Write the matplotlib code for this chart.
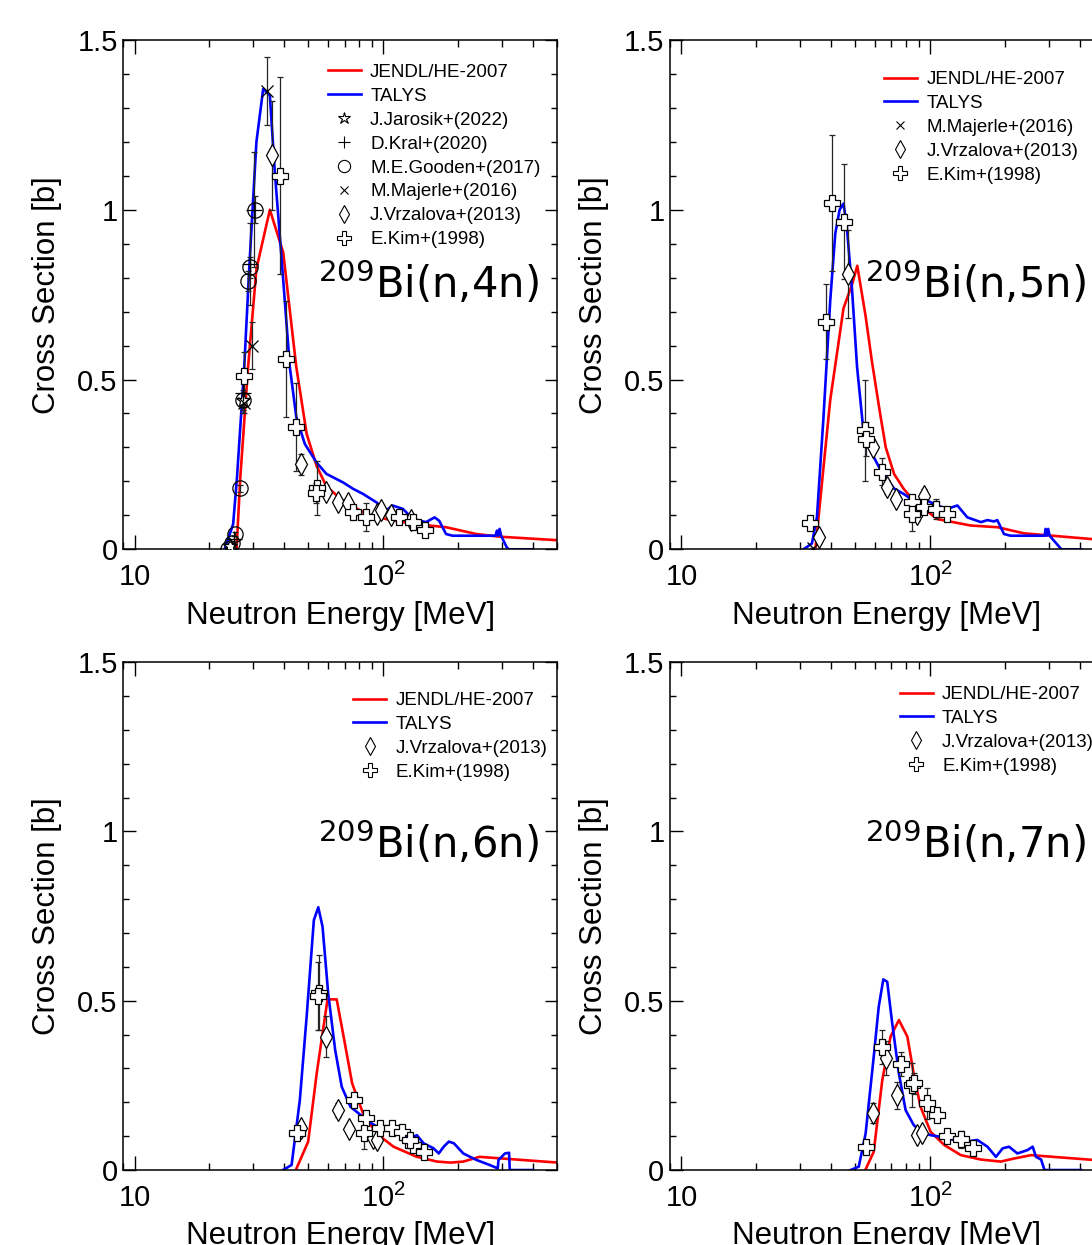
import numpy as np
import matplotlib
matplotlib.use("Agg")
import matplotlib.pyplot as plt
from matplotlib.ticker import LogLocator, FixedLocator, FixedFormatter, MultipleLocator
from matplotlib.lines import Line2D

plt.rcParams['font.family'] = ['Liberation Sans', 'DejaVu Sans']
plt.rcParams['mathtext.fontset'] = 'custom'
plt.rcParams['mathtext.rm'] = 'Liberation Sans'
plt.rcParams['mathtext.default'] = 'regular'

# ---------------- (n,4n) ----------------
jendl4_e = [25.7, 26.6, 28.6, 30.9, 35.0, 39.6, 44.7, 49.2, 54.0, 59.1, 68.9, 85.6, 102.8, 131.8, 179, 237, 296, 496]
jendl4_y = [0.0, 0.21, 0.537, 0.826, 1.0, 0.874, 0.537, 0.34, 0.245, 0.185, 0.143, 0.104, 0.089, 0.075, 0.065, 0.045, 0.037, 0.027]
talys4_e = [23.0, 24.9, 25.8, 27.6, 28.9, 29.8, 30.9, 32.9, 35.0, 36.6, 38.4, 40.2, 42.1, 44.7, 48.4, 54.0, 59.1, 68.9,
            75.7, 83.0, 94.0, 102.8, 109, 120, 131.8, 148.6, 161, 168, 179, 190, 283, 287, 290, 294, 298, 314, 320, 396]
talys4_y = [0.0, 0.074, 0.21, 0.537, 0.826, 0.999, 1.2, 1.356, 1.336, 1.115, 0.92, 0.73, 0.537, 0.39, 0.31, 0.255, 0.222, 0.197,
            0.178, 0.163, 0.138, 0.114, 0.129, 0.119, 0.089, 0.080, 0.094, 0.084, 0.045, 0.040, 0.040, 0.055, 0.040, 0.06, 0.040, 0.006, 0.0, 0.0]
kim4_e = [27.6, 38.4, 40.5, 44.7, 54.3, 53.5, 75.7, 85.6, 116, 131.8, 147]
kim4_y = [0.51, 1.10, 0.56, 0.36, 0.18, 0.165, 0.11, 0.095, 0.095, 0.08, 0.058]
kim4_err = [0.07, 0.29, 0.17, 0.13, 0.08, 0.03, 0.02, 0.04, 0.02, 0.02, 0.01]
vrz4_e = [35.8, 46.8, 58.8, 65.9, 72.4, 94, 97.8, 107.4, 129]
vrz4_y = [1.16, 0.25, 0.17, 0.14, 0.135, 0.105, 0.115, 0.10, 0.085]
vrz4_err = [0.16, 0.03, 0.02, 0.01, 0.01, 0.01, 0.01, 0.01, 0.01]
maj4_e = [34.1, 29.7, 27.6]
maj4_y = [1.35, 0.60, 0.43]
maj4_err = [0.1, 0.07, 0.03]
goo4_e = [30.4, 29.0, 28.6, 27.4, 26.5, 25.3, 24.7, 23.8]
goo4_y = [1.0, 0.83, 0.79, 0.44, 0.18, 0.045, 0.02, 0.0]
goo4_err = [0.04, 0.03, 0.03, 0.02, 0.01, 0.005, 0.005, 0.0]
kral4_e = [30.3, 29.2, 27.4, 25.0]
kral4_y = [1.0, 0.84, 0.46, 0.03]
kral4_err = [0.17, 0.12, 0.06, 0.01]
jar4_e = [27.3, 24.2]
jar4_y = [0.44, 0.01]
jar4_err = [0.03, 0.01]

# ---------------- (n,5n) ----------------
jendl5_e = [34.6, 36.7, 39.7, 44.9, 48.6, 51.0, 55.0, 58.5, 63.0, 66.4, 71.7, 78.4, 86.0, 107, 146, 187, 239, 450]
jendl5_y = [0.0, 0.19, 0.44, 0.71, 0.78, 0.835, 0.69, 0.55, 0.40, 0.30, 0.222, 0.178, 0.143, 0.089, 0.070, 0.065, 0.047, 0.03]
talys5_e = [31.0, 33.5, 35.1, 37.3, 39.7, 41.6, 43.3, 44.9, 46.3, 48.6, 50.9, 53.8, 56.7, 63.3, 71.7, 78.4, 86.0, 97.6,
            107, 117.4, 128.9, 141.4, 160.3, 170.3, 181, 186.6, 198.5, 211, 289, 292, 295, 299, 303, 338, 406]
talys5_y = [0.0, 0.017, 0.095, 0.39, 0.733, 0.93, 1.0, 1.018, 0.95, 0.763, 0.537, 0.36, 0.30, 0.233, 0.179, 0.163, 0.143, 0.143,
            0.129, 0.119, 0.129, 0.094, 0.080, 0.086, 0.082, 0.086, 0.045, 0.040, 0.040, 0.06, 0.040, 0.06, 0.040, 0.0, 0.0]
kim5_e = [40.3, 44.9, 38.3, 32.8, 55.0, 55.5, 64.1, 84.8, 84.8, 94.5, 105.7, 117.4]
kim5_y = [1.02, 0.965, 0.67, 0.076, 0.35, 0.325, 0.228, 0.138, 0.104, 0.124, 0.119, 0.104]
kim5_err = [0.2, 0.17, 0.11, 0.01, 0.15, 0.05, 0.04, 0.02, 0.05, 0.02, 0.03, 0.02]
vrz5_e = [46.9, 35.9, 58.9, 66.9, 72.8, 94.5, 88.7]
vrz5_y = [0.81, 0.036, 0.30, 0.184, 0.149, 0.158, 0.104]
vrz5_err = [0.13, 0.0, 0.0, 0.02, 0.0, 0.02, 0.02]
maj5_e = [33.9]
maj5_y = [0.005]
maj5_err = [0.0]

# ---------------- (n,6n) ----------------
jendl6_e = [44.8, 49.9, 54, 59.7, 65, 68.9, 75, 83, 94, 110, 136.6, 164.7, 186.6, 210, 244, 505]
jendl6_y = [0.005, 0.084, 0.285, 0.504, 0.504, 0.404, 0.256, 0.167, 0.108, 0.069, 0.039, 0.025, 0.022, 0.025, 0.039, 0.022]
talys6_e = [39.5, 42.8, 46.2, 49.2, 52.6, 54.8, 57.0, 60.1, 64.1, 68.1, 73.8, 81.3, 89.6, 100, 113.5, 128.4, 136.6, 145.4,
            159.6, 167.3, 175.2, 183.7, 192.5, 210, 237, 268, 289, 291, 309, 321, 323, 401]
talys6_y = [0.0, 0.015, 0.207, 0.453, 0.738, 0.776, 0.719, 0.52, 0.354, 0.246, 0.187, 0.162, 0.138, 0.118, 0.118, 0.094, 0.103, 0.079,
            0.064, 0.049, 0.069, 0.084, 0.079, 0.049, 0.030, 0.015, 0.005, 0.03, 0.049, 0.051, 0.0, 0.0]
kim6_e = [55.3, 54.8, 44.8, 76.2, 85.6, 84.0, 97.2, 108, 118.6, 131.8, 128, 145.4]
kim6_y = [0.524, 0.515, 0.108, 0.207, 0.153, 0.108, 0.123, 0.123, 0.113, 0.074, 0.09, 0.054]
kim6_err = [0.11, 0.1, 0.01, 0.02, 0.02, 0.045, 0.01, 0.01, 0.01, 0.02, 0.01, 0.01]
vrz6_e = [59.1, 46.8, 66.0, 73, 91, 94]
vrz6_y = [0.394, 0.123, 0.177, 0.12, 0.094, 0.09]
vrz6_err = [0.06, 0.0, 0.02, 0.0, 0.0, 0.0]

# ---------------- (n,7n) ----------------
jendl7_e = [55.1, 59.4, 64.3, 69.4, 75.0, 81.1, 86.0, 91.6, 100.6, 114.1, 133.2, 160.3, 192.5, 218, 255, 452]
jendl7_y = [0.002, 0.054, 0.266, 0.394, 0.443, 0.394, 0.285, 0.187, 0.113, 0.074, 0.044, 0.031, 0.025, 0.034, 0.044, 0.03]
talys7_e = [47.9, 51.7, 55.1, 59.4, 62.2, 64.9, 67.3, 70.5, 75.0, 79.8, 86.0, 91.6, 100.6, 110.6, 124.8, 141.4, 155, 170.3,
            184.2, 196, 208, 224.8, 246.9, 259, 267, 280, 289, 406]
talys7_y = [0.0, 0.01, 0.108, 0.335, 0.482, 0.563, 0.556, 0.433, 0.285, 0.177, 0.133, 0.113, 0.103, 0.098, 0.089, 0.084, 0.089, 0.069,
            0.039, 0.064, 0.069, 0.049, 0.059, 0.069, 0.039, 0.031, 0.0, 0.0]
kim7_e = [55.1, 64.3, 76.2, 84.8, 86.5, 97.6, 107, 116.7, 133.2, 148.4]
kim7_y = [0.069, 0.364, 0.313, 0.251, 0.256, 0.197, 0.162, 0.10, 0.091, 0.064]
kim7_err = [0.0, 0.05, 0.035, 0.065, 0.03, 0.045, 0.0, 0.01, 0.025, 0.0]
vrz7_e = [59.0, 66.7, 73.4, 88.7, 93.1]
vrz7_y = [0.169, 0.33, 0.221, 0.103, 0.108]
vrz7_err = [0.03, 0.05, 0.04, 0.0, 0.0]

# marker styles for each experiment
styles = {
    "J.Jarosik+(2022)": dict(marker="*", ms=11, mfc="white"),
    "D.Kral+(2020)": dict(marker="+", ms=11, mfc="none"),
    "M.E.Gooden+(2017)": dict(marker="o", ms=11, mfc="none"),
    "M.Majerle+(2016)": dict(marker="x", ms=8, mfc="none"),
    "J.Vrzalova+(2013)": dict(marker="d", ms=11, mfc="white"),
    "E.Kim+(1998)": dict(marker="P", ms=12, mfc="white"),
}

panels = [
    dict(pos=[0.1129, 0.5588, 0.3971, 0.4091], title="(n,4n)",
         jendl=(jendl4_e, jendl4_y), talys=(talys4_e, talys4_y),
         exps=[("J.Jarosik+(2022)", jar4_e, jar4_y, jar4_err),
               ("D.Kral+(2020)", kral4_e, kral4_y, kral4_err),
               ("M.E.Gooden+(2017)", goo4_e, goo4_y, goo4_err),
               ("M.Majerle+(2016)", maj4_e, maj4_y, maj4_err),
               ("J.Vrzalova+(2013)", vrz4_e, vrz4_y, vrz4_err),
               ("E.Kim+(1998)", kim4_e, kim4_y, kim4_err)],
         leg=(0.472, 0.953), tpos=(0.449, 0.523)),
    dict(pos=[0.6136, 0.5588, 0.3971, 0.4091], title="(n,5n)",
         jendl=(jendl5_e, jendl5_y), talys=(talys5_e, talys5_y),
         exps=[("M.Majerle+(2016)", maj5_e, maj5_y, maj5_err),
               ("J.Vrzalova+(2013)", vrz5_e, vrz5_y, vrz5_err),
               ("E.Kim+(1998)", kim5_e, kim5_y, kim5_err)],
         leg=(0.4935, 0.939), tpos=(0.449, 0.523)),
    dict(pos=[0.1129, 0.0602, 0.3971, 0.4080], title="(n,6n)",
         jendl=(jendl6_e, jendl6_y), talys=(talys6_e, talys6_y),
         exps=[("J.Vrzalova+(2013)", vrz6_e, vrz6_y, vrz6_err),
               ("E.Kim+(1998)", kim6_e, kim6_y, kim6_err)],
         leg=(0.53, 0.941), tpos=(0.449, 0.644)),
    dict(pos=[0.6136, 0.0602, 0.3971, 0.4080], title="(n,7n)",
         jendl=(jendl7_e, jendl7_y), talys=(talys7_e, talys7_y),
         exps=[("J.Vrzalova+(2013)", vrz7_e, vrz7_y, vrz7_err),
               ("E.Kim+(1998)", kim7_e, kim7_y, kim7_err)],
         leg=(0.53, 0.953), tpos=(0.449, 0.644)),
]

fig = plt.figure(figsize=(10.92, 12.45), dpi=100)

for p in panels:
    ax = fig.add_axes(p["pos"])
    ax.plot(*p["jendl"], color="#ff0000", lw=1.9, zorder=2)
    ax.plot(*p["talys"], color="#0000ff", lw=1.9, zorder=2)
    handles = [Line2D([], [], color="#ff0000", lw=1.9, label="JENDL/HE-2007"),
               Line2D([], [], color="#0000ff", lw=1.9, label="TALYS")]
    for name, e, y, err in p["exps"]:
        st = styles[name]
        ax.errorbar(e, y, yerr=err, fmt="none", ecolor="0.15", elinewidth=0.9,
                    capsize=2.5, capthick=0.9, zorder=3)
        ax.plot(e, y, ls="none", marker=st["marker"], ms=st["ms"], mfc=st["mfc"],
                mec="black", mew=0.9, zorder=4)
        handles.append(Line2D([], [], ls="none", marker=st["marker"], ms=st["ms"] * 0.8,
                              mfc="none", mec="black", mew=0.8, label=name))
    ax.set_xscale("log")
    ax.set_xlim(9, 500)
    ax.set_ylim(0, 1.5)
    ax.xaxis.set_major_locator(FixedLocator([10, 100]))
    ax.xaxis.set_major_formatter(FixedFormatter(["10", "10$^2$"]))
    ax.xaxis.set_minor_locator(LogLocator(base=10, subs=np.arange(2, 10)))
    ax.xaxis.set_minor_formatter(plt.NullFormatter())
    ax.yaxis.set_major_locator(FixedLocator([0, 0.5, 1, 1.5]))
    ax.yaxis.set_major_formatter(FixedFormatter(["0", "0.5", "1", "1.5"]))
    ax.yaxis.set_minor_locator(MultipleLocator(0.1))
    ax.tick_params(which="both", direction="in", top=True, right=True, width=1.0)
    ax.tick_params(axis="x", which="major", length=10, pad=10, labelsize=21)
    ax.tick_params(axis="x", which="minor", length=5)
    ax.tick_params(axis="y", which="major", length=9, pad=4, labelsize=21)
    ax.tick_params(axis="y", which="minor", length=4.5)
    for s in ax.spines.values():
        s.set_linewidth(1.1)
    ax.set_xlabel("Neutron Energy [MeV]", fontsize=22.5, labelpad=6)
    ax.set_ylabel("Cross Section [b]", fontsize=22.5, labelpad=11)
    ax.text(p["tpos"][0], p["tpos"][1], r"$^{209}$Bi" + p["title"], transform=ax.transAxes,
            fontsize=30, family="DejaVu Sans", math_fontfamily="dejavusans",
            ha="left", va="center")
    ax.legend(handles=handles, loc="upper left", bbox_to_anchor=p["leg"], frameon=False,
              fontsize=13.5, handlelength=1.75, handletextpad=0.5, labelspacing=0.36,
              borderpad=0, borderaxespad=0, numpoints=1)

plt.savefig("out.png", dpi=100)
